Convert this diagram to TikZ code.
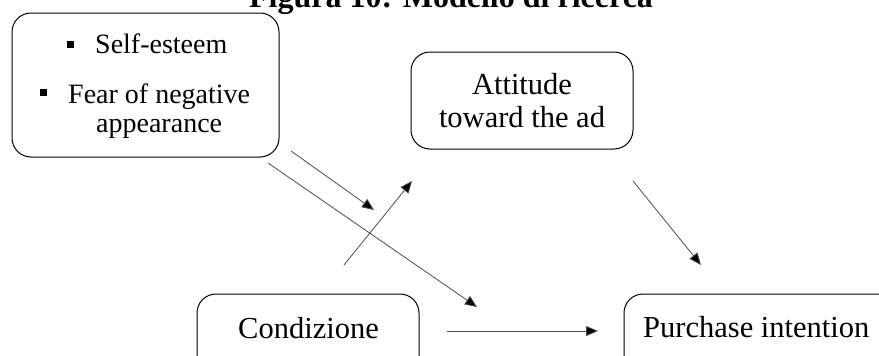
\documentclass[tikz,border=0pt]{standalone}
\usepackage{fontspec}
\setmainfont{Liberation Serif}
\usetikzlibrary{arrows.meta}
\begin{document}
\begin{tikzpicture}[x=1pt,y=-1pt,
  box/.style={draw,rounded corners=19pt,line width=1pt,inner sep=0pt},
  conn/.style={draw=black!70,line width=0.8pt,-{Triangle[length=12pt,width=10pt,fill=black]}},
  txtA/.style={inner sep=0pt,font=\fontsize{28}{32}\selectfont},
  txtB/.style={inner sep=0pt,font=\fontsize{30.5}{34}\selectfont},
  bullet/.style={fill=black,minimum size=7pt,inner sep=0pt}]
\useasboundingbox (0,0) rectangle (879,356);
\clip (0,0) rectangle (879,356);
% title
\node[anchor=base,inner sep=0pt,font=\bfseries\fontsize{32}{36}\selectfont] (title) at (451,8) {Figura 10: Modello di ricerca};
% boxes
\node[box,minimum width=267pt,minimum height=144pt] (mod) at (145.5,85) {};
\node[box,minimum width=222pt,minimum height=97pt] (att) at (522,100.5) {};
\node[box,minimum width=222pt,minimum height=144pt] (cond) at (308,366) {};
\node[box,minimum width=300pt,minimum height=144pt] (pi) at (774,366) {};
% texts
\node[bullet] (b1) at (70.5,44) {};
\node[txtA,anchor=base west] (t1) at (95,53) {Self-esteem};
\node[bullet] (b2) at (43.5,92.5) {};
\node[txtA,anchor=base west] (t2) at (68,103) {Fear of negative};
\node[txtA,anchor=base west] (t3) at (96,132) {appearance};
\node[txtB,anchor=base] (t4) at (522,94) {Attitude};
\node[txtB,anchor=base] (t5) at (522,127) {toward the ad};
\node[txtB,anchor=base] (t6) at (308.5,338) {Condizione};
\node[txtB,anchor=base west] (t7) at (643,337) {Purchase intention};
% connector ends
\coordinate (a1s) at (291,151); \coordinate (a1e) at (374,210);
\coordinate (a2s) at (268,163); \coordinate (a2e) at (477,307);
\coordinate (a3s) at (344,265); \coordinate (a3e) at (412,181);
\coordinate (a4s) at (447,331); \coordinate (a4e) at (598,331);
\coordinate (a5s) at (633,181); \coordinate (a5e) at (701,265);
\draw[conn] (a1s) -- (a1e);
\draw[conn] (a2s) -- (a2e);
\draw[conn] (a3s) -- (a3e);
\draw[conn] (a4s) -- (a4e);
\draw[conn] (a5s) -- (a5e);
\end{tikzpicture}
\end{document}
